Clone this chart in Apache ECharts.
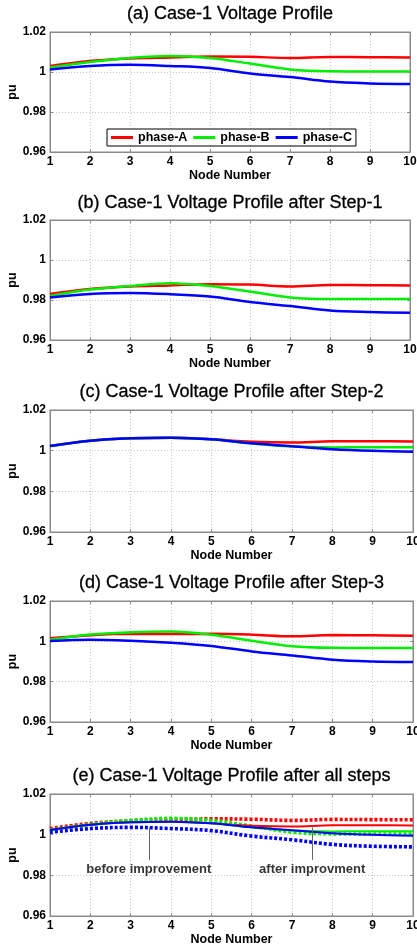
<!DOCTYPE html>
<html>
<head>
<meta charset="utf-8">
<script src="https://cdn.jsdelivr.net/npm/echarts@6/dist/echarts.min.js"></script>
<style>
html,body{margin:0;padding:0;background:#fff;}
#chart{width:417px;height:948px;}
</style>
</head>
<body>
<div id="chart"></div>
<script>
// ---------- data ----------
const nodes = [1, 2, 3, 4, 5, 6, 7, 8, 9, 10];
const phaseNames = ['phase-A', 'phase-B', 'phase-C'];
const panelTitles = [
  '(a) Case-1 Voltage Profile',
  '(b) Case-1 Voltage Profile after Step-1',
  '(c) Case-1 Voltage Profile after Step-2',
  '(d) Case-1 Voltage Profile after Step-3',
  '(e) Case-1 Voltage Profile after all steps'
];
const xAxisName = 'Node Number';
const yAxisName = 'pu';

// (a) original
const caseA = [1.0030, 1.0055, 1.0068, 1.0073, 1.0078, 1.0076, 1.0070, 1.0075, 1.0074, 1.0073];
const caseB = [1.0022, 1.0050, 1.0070, 1.0080, 1.0070, 1.0042, 1.0013, 1.0004, 1.0003, 1.0003];
const caseC = [1.0012, 1.0030, 1.0036, 1.0030, 1.0020, 0.9993, 0.9975, 0.9952, 0.9943, 0.9940];
// (b) after step 1
const step1A = [0.9830, 0.9855, 0.9868, 0.9873, 0.9879, 0.9877, 0.9868, 0.9875, 0.9874, 0.9873];
const step1B = [0.9820, 0.9852, 0.9870, 0.9884, 0.9870, 0.9842, 0.9813, 0.9805, 0.9805, 0.9805];
const step1C = [0.9812, 0.9830, 0.9835, 0.9829, 0.9817, 0.9790, 0.9770, 0.9748, 0.9740, 0.9736];
// (c) after step 2
const step2A = [1.0023, 1.0049, 1.0061, 1.0064, 1.0056, 1.0044, 1.0040, 1.0046, 1.0046, 1.0045];
const step2B = [1.0023, 1.0049, 1.0061, 1.0064, 1.0056, 1.0035, 1.0020, 1.0016, 1.0017, 1.0017];
const step2C = [1.0023, 1.0049, 1.0061, 1.0064, 1.0056, 1.0036, 1.0022, 1.0007, 0.9999, 0.9995];
// (d) after step 3
const step3A = [1.0015, 1.0030, 1.0037, 1.0036, 1.0037, 1.0033, 1.0025, 1.0031, 1.0030, 1.0028];
const step3B = [1.0008, 1.0034, 1.0045, 1.0049, 1.0033, 1.0003, 0.9976, 0.9968, 0.9967, 0.9967];
const step3C = [1.0002, 1.0008, 1.0003, 0.9993, 0.9977, 0.9950, 0.9930, 0.9909, 0.9900, 0.9897];

// annotations for panel (e)
const annotationTexts = ['before improvement', 'after improvment'];
const annotationX = [3.45, 7.5];
const annotationTextY = [0.9831, 0.9831];
const arrowTailY = [0.9876, 0.9876];
const arrowTipY = [1.0036, 1.0035];

const yMin = 0.96, yMax = 1.02, yStep = 0.02;
const xMin = 1, xMax = 10, xStep = 1;

// ---------- layout / style ----------
const FONT = 'Liberation Sans, Arial, sans-serif';
const colors = ['#ff0000', '#00ee00', '#0000ff'];
const panels = [
  {top: 32, h: 120, right: 410, tc: 15},
  {top: 220, h: 120, right: 410, tc: 204},
  {top: 410, h: 122, right: 413, tc: 393},
  {top: 601, h: 121, right: 413, tc: 584},
  {top: 794, h: 122, right: 413, tc: 777}
];
const LEFT = 50;
const frameColor = '#8a8a8a';

const grids = [], xAxes = [], yAxes = [], titles = [], series = [];
const pairs = arr => nodes.map((x, k) => [x, arr[k]]);

panels.forEach((p, i) => {
  grids.push({left: LEFT, top: p.top, width: p.right - LEFT, height: p.h,
    containLabel: false, outerBoundsMode: 'none',
    show: true, borderColor: frameColor, borderWidth: 1, backgroundColor: '#fff'});
  titles.push({text: panelTitles[i], left: (LEFT + p.right) / 2, top: p.tc - 9.5, textAlign: 'center',
    padding: 0, textStyle: {fontFamily: FONT, fontSize: 18, fontWeight: 'normal', color: '#000',
      textBorderColor: '#000', textBorderWidth: 0.3}});
  xAxes.push({type: 'value', gridIndex: i, min: xMin, max: xMax, interval: xStep, position: 'bottom',
    axisLine: {show: true, onZero: false, lineStyle: {color: frameColor, width: 1}},
    axisTick: {show: true, inside: true, length: 3, lineStyle: {color: frameColor}},
    axisLabel: {show: true, margin: 4, color: '#000', fontFamily: FONT, fontSize: 12, fontWeight: 'bold',
      showMinLabel: true, showMaxLabel: true},
    splitLine: {show: true, lineStyle: {type: [1, 2], color: '#c8c8c8', width: 1}},
    name: xAxisName, nameLocation: 'middle', nameGap: 17, nameMoveOverlap: false,
    nameTextStyle: {fontFamily: FONT, fontSize: 12.5, fontWeight: 'bold', color: '#000'}});
  yAxes.push({type: 'value', gridIndex: i, min: yMin, max: yMax, interval: yStep, position: 'left',
    axisLine: {show: true, onZero: false, lineStyle: {color: frameColor, width: 1}},
    axisTick: {show: true, inside: true, length: 3, lineStyle: {color: frameColor}},
    axisLabel: {show: true, margin: 4, color: '#000', fontFamily: FONT, fontSize: 12, fontWeight: 'bold',
      formatter: v => String(Math.round(v * 100) / 100)},
    splitLine: {show: true, lineStyle: {type: [1, 2], color: '#c8c8c8', width: 1}},
    name: yAxisName, nameLocation: 'middle', nameGap: 31, nameMoveOverlap: false,
    nameTextStyle: {fontFamily: FONT, fontSize: 12.5, fontWeight: 'bold', color: '#000'}});
});
// mirrored (box) axes on top / right
panels.forEach((p, i) => {
  xAxes.push({type: 'value', gridIndex: i, min: xMin, max: xMax, interval: xStep, position: 'top',
    axisLine: {show: true, onZero: false, lineStyle: {color: frameColor}},
    axisTick: {show: true, inside: true, length: 3, lineStyle: {color: frameColor}},
    axisLabel: {show: false}, splitLine: {show: false}});
  yAxes.push({type: 'value', gridIndex: i, min: yMin, max: yMax, interval: yStep, position: 'right',
    axisLine: {show: true, onZero: false, lineStyle: {color: frameColor}},
    axisTick: {show: true, inside: true, length: 3, lineStyle: {color: frameColor}},
    axisLabel: {show: false}, splitLine: {show: false}});
});

function lineSeries(name, arr, gi, color, width, dash) {
  return {
    name: name, type: 'line', xAxisIndex: gi, yAxisIndex: gi, data: pairs(arr),
    smooth: 0.35, symbol: 'none', showSymbol: false, silent: true, animation: false,
    lineStyle: {color: color, width: width, type: dash || 'solid', cap: 'butt'},
    itemStyle: {color: color}
  };
}

const panelData = [
  [caseA, caseB, caseC],
  [step1A, step1B, step1C],
  [step2A, step2B, step2C],
  [step3A, step3B, step3C]
];
panelData.forEach((set, i) => {
  set.forEach((arr, k) => {
    const nm = i === 0 ? phaseNames[k] : 'p' + i + '-' + phaseNames[k];
    series.push(lineSeries(nm, arr, i, colors[k], 2.5));
  });
});
// panel (e): before (dotted, thick) then after (solid)
[caseA, caseB, caseC].forEach((arr, k) => {
  series.push(lineSeries('before-' + phaseNames[k], arr, 4, colors[k], 3.6, [3, 2]));
});
[step2A, step2B, step2C].forEach((arr, k) => {
  series.push(lineSeries('after-' + phaseNames[k], arr, 4, colors[k], 2));
});
// annotations
series.push({
  name: 'annotations', type: 'scatter', xAxisIndex: 4, yAxisIndex: 4, silent: true, animation: false,
  symbolSize: 1, itemStyle: {color: 'rgba(0,0,0,0)'},
  data: annotationTexts.map((t, k) => ({name: t, value: [annotationX[k], annotationTextY[k]]})),
  label: {show: true, position: 'inside', formatter: '{b}', color: '#000', fontFamily: FONT,
    fontSize: 13, fontWeight: 'bold'},
  markLine: {
    silent: true, animation: false, symbol: ['none', 'arrow'], symbolSize: [0, 7],
    lineStyle: {color: '#666', width: 1, type: 'solid'}, label: {show: false},
    emphasis: {disabled: true},
    data: annotationX.map((x, k) => [{coord: [x, arrowTailY[k]]}, {coord: [x, arrowTipY[k]], itemStyle: {color: '#000'}}])
  }
});

const chart = echarts.init(document.getElementById('chart'), null, {renderer: 'canvas', width: 417, height: 948});
chart.setOption({
  backgroundColor: '#fff',
  animation: false,
  title: titles,
  grid: grids,
  xAxis: xAxes,
  yAxis: yAxes,
  legend: {
    show: true, data: phaseNames, left: 107, top: 129, orient: 'horizontal',
    icon: 'rect', itemWidth: 22, itemHeight: 3, itemGap: 6, padding: [2, 4, 2, 4],
    backgroundColor: '#fff', borderColor: '#000', borderWidth: 1, borderRadius: 0,
    selectedMode: false,
    textStyle: {fontFamily: FONT, fontSize: 12.5, fontWeight: 'bold', color: '#000'}
  },
  series: series
});
</script>
</body>
</html>
